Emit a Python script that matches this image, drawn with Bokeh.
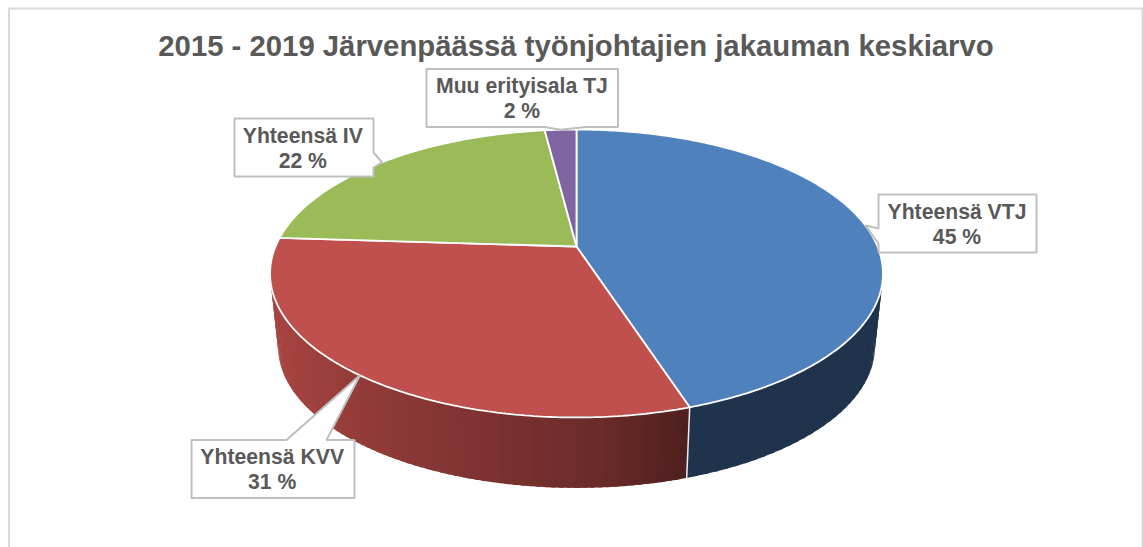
import numpy as np
from bokeh.plotting import figure
from bokeh.models import Range1d
from bokeh.core.properties import value
from bokeh.embed import file_html
from bokeh.resources import INLINE

# data
title_text = "2015 - 2019 Järvenpäässä työnjohtajien jakauman keskiarvo"
categories = ["Yhteensä VTJ", "Yhteensä KVV", "Yhteensä IV", "Muu erityisala TJ"]
shares = [45, 31, 22, 2]
top_colors = ["#4F81BD", "#C0504D", "#9BBB59", "#8064A2"]
FONT = value("Liberation Sans")
TEXT = "#595959"
BORDER = "#BFBFBF"

# label boxes: left, right, top, bottom; pointer base start/end and side
boxes = [
    (878, 1036, 194, 252, "left", 228, 243),
    (191, 354, 439.5, 497.5, "top", 286, 326),
    (234, 373, 118, 176, "right", 152, 167),
    (426, 617.5, 68.5, 126.5, "bottom", 544, 585),
]
# small horizontal nudge of each label's text from its box centre
text_dx = [-0.5, -0.8, -1.2, -0.3]

# layout of the tilted pie, in picture pixels
CX, CY, A, B, K = 576.0, 246.0, 301.0, 138.9, 0.1875
CY2, A2, B2 = 320.0, 293.0, 136.0


def project(t, cy=CY, a=A, b=B):
    u, v = np.sin(t), np.cos(t)
    w = 1 + K * v
    return CX + a * u / w, cy - b * v / w


def wall_color(x):
    xs = [270, 360, 500, 600, 690]
    r = np.interp(x, xs, [0xA8, 0x93, 0x7A, 0x6A, 0x4E])
    g = np.interp(x, xs, [0x45, 0x3C, 0x32, 0x2B, 0x20])
    b = np.interp(x, xs, [0x42, 0x39, 0x30, 0x29, 0x1E])
    return "#%02X%02X%02X" % (int(r), int(g), int(b))


def wall_strips(t_start, t_end, n, color_of):
    edges = np.linspace(t_start, t_end, n)
    for t0, t1 in zip(edges[:-1], edges[1:]):
        ts = np.linspace(t0, min(t1 + 0.012, t_end), 4)
        x1, y1 = project(ts)
        x2, y2 = project(ts, CY2, A2, B2)
        xmid = (x1.mean() + x2.mean()) / 2
        p.patch(np.r_[x1, x2[::-1]], np.r_[y1, y2[::-1]], fill_color=color_of(xmid), line_color=None)


p = figure(width=1143, height=547, output_backend="svg", toolbar_location=None,
           x_range=Range1d(0, 1143), y_range=Range1d(547, 0),
           min_border=0, outline_line_color=None, background_fill_color="white",
           border_fill_color="white")
p.axis.visible = False
p.grid.visible = False

# chart frame
p.line([8.5, 8.5, 1142, 1142], [547, 8, 8, 547], line_color="#D9D9D9", line_width=2)

fractions = np.cumsum([0] + shares) / sum(shares)
angles = fractions * 2 * np.pi

# side wall: blue slice and shaded red slice
wall_strips(0.9, angles[1], 60, lambda x: "#1F334D")
wall_strips(angles[1], angles[2], 90, wall_color)

# seam between wall sections
sx1, sy1 = project(angles[1])
sx2, sy2 = project(angles[1], CY2, A2, B2)
p.line([sx1, sx2], [sy1, sy2], line_color="#EDEDED", line_width=1.5)

# top face
for i, c in enumerate(top_colors):
    ts = np.linspace(angles[i], angles[i + 1], max(6, int(shares[i] * 5)))
    x, y = project(ts)
    p.patch(np.r_[CX, x], np.r_[CY, y], fill_color=c, line_color="white", line_width=1.8)

# callouts: pointer tip sits on the rim at the middle of the slice
for i, (l, r, t, b, side, s0, s1) in enumerate(boxes):
    tx, ty = project((angles[i] + angles[i + 1]) / 2)
    if side == "left":
        xs, ys = [l, tx, l, l, r, r, l], [s0, ty, s1, b, b, t, t]
    elif side == "right":
        xs, ys = [r, tx, r, r, l, l, r], [s0, ty, s1, b, b, t, t]
    elif side == "top":
        xs, ys = [s0, tx, s1, r, r, l, l], [t, ty, t, t, b, b, t]
    else:
        xs, ys = [s0, tx, s1, r, r, l, l], [b, ty, b, b, t, t, b]
    p.patch(xs, ys, fill_color="white", line_color=BORDER, line_width=2)
    mid = (l + r) / 2 + text_dx[i]
    p.text([mid], [t + 16.5], text=[categories[i]], text_font=FONT, text_font_style="bold",
           text_font_size="21.2px", text_color=TEXT, text_align="center", text_baseline="middle")
    p.text([mid], [t + 41.5], text=[f"{shares[i]} %"], text_font=FONT, text_font_style="bold",
           text_font_size="21.2px", text_color=TEXT, text_align="center", text_baseline="middle")

p.text([575.5], [44.5], text=[title_text], text_font=FONT, text_font_style="bold",
       text_font_size="29.3px", text_color=TEXT, text_align="center", text_baseline="middle")

open("out.html", "w").write(file_html(p, INLINE))
